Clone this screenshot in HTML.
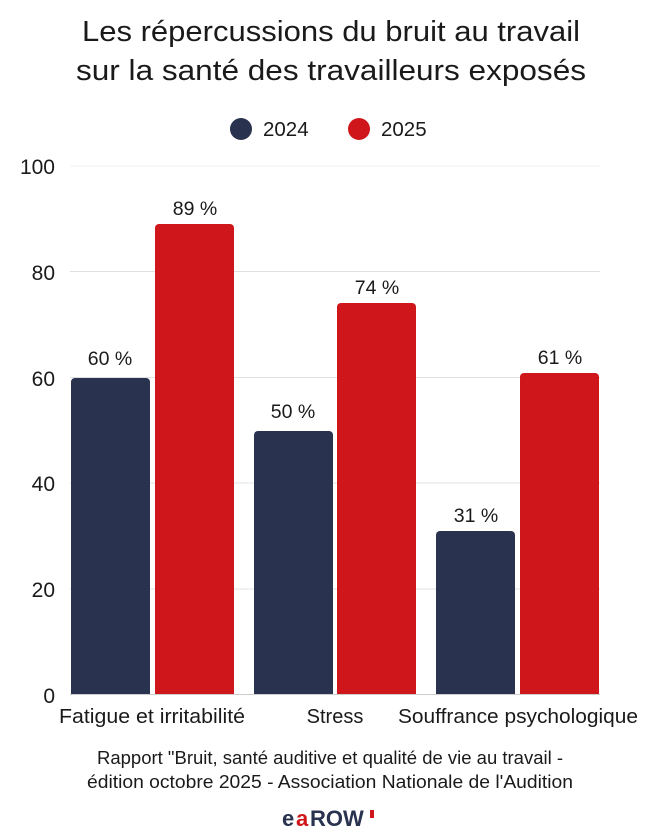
<!DOCTYPE html>
<html><head><meta charset="utf-8"><style>
body{margin:0;background:#fff;}
svg text{font-family:"Liberation Sans",sans-serif;fill:#1a1a1a;}
</style></head><body>
<svg width="659" height="832" viewBox="0 0 659 832" xmlns="http://www.w3.org/2000/svg">
<text x="331" y="41" font-size="29" text-anchor="middle" textLength="498" lengthAdjust="spacingAndGlyphs">Les répercussions du bruit au travail</text>
<text x="331" y="80" font-size="29" text-anchor="middle" textLength="510" lengthAdjust="spacingAndGlyphs">sur la santé des travailleurs exposés</text>
<circle cx="241" cy="129" r="11" fill="#29324f"/>
<text x="263" y="136" font-size="20.5">2024</text>
<circle cx="359" cy="129" r="11" fill="#cf171b"/>
<text x="381" y="136" font-size="20.5">2025</text>
<g stroke="#e0e0e0" stroke-width="1">
<line x1="70" y1="166" x2="600" y2="166" stroke="#f0f0f0"/>
<line x1="70" y1="271.5" x2="600" y2="271.5"/>
<line x1="70" y1="377.5" x2="600" y2="377.5"/>
<line x1="70" y1="483" x2="600" y2="483"/>
<line x1="70" y1="589" x2="600" y2="589"/>
</g>
<g font-size="21" text-anchor="end">
<text x="55" y="174">100</text>
<text x="55" y="280">80</text>
<text x="55" y="386">60</text>
<text x="55" y="491">40</text>
<text x="55" y="597">20</text>
<text x="55" y="703">0</text>
</g>
<g>
<path d="M71 694V382a4 4 0 0 1 4-4h71a4 4 0 0 1 4 4V694z" fill="#29324f"/>
<path d="M155 694V228a4 4 0 0 1 4-4h71a4 4 0 0 1 4 4V694z" fill="#cf171b"/>
<path d="M254 694V435a4 4 0 0 1 4-4h71a4 4 0 0 1 4 4V694z" fill="#29324f"/>
<path d="M337 694V307a4 4 0 0 1 4-4h71a4 4 0 0 1 4 4V694z" fill="#cf171b"/>
<path d="M436 694V535a4 4 0 0 1 4-4h71a4 4 0 0 1 4 4V694z" fill="#29324f"/>
<path d="M520 694V377a4 4 0 0 1 4-4h71a4 4 0 0 1 4 4V694z" fill="#cf171b"/>
</g>
<line x1="70" y1="694.5" x2="600" y2="694.5" stroke="#ccc"/>
<g font-size="19.5" text-anchor="middle">
<text x="110" y="365">60 %</text>
<text x="195" y="215">89 %</text>
<text x="293" y="418">50 %</text>
<text x="377" y="294">74 %</text>
<text x="476" y="522">31 %</text>
<text x="560" y="364">61 %</text>
</g>
<g font-size="20" text-anchor="middle">
<text x="152" y="723" textLength="186" lengthAdjust="spacingAndGlyphs">Fatigue et irritabilité</text>
<text x="335" y="723">Stress</text>
<text x="518" y="723" textLength="240" lengthAdjust="spacingAndGlyphs">Souffrance psychologique</text>
</g>
<g font-size="18" text-anchor="middle" fill="#333">
<text x="330" y="764" textLength="466" lengthAdjust="spacingAndGlyphs">Rapport "Bruit, santé auditive et qualité de vie au travail -</text>
<text x="330" y="788" textLength="486" lengthAdjust="spacingAndGlyphs">édition octobre 2025 - Association Nationale de l'Audition</text>
</g>
<g font-size="22" font-weight="bold" font-family="Liberation Sans,sans-serif">
<text x="282" y="826" style="fill:#29324f">e</text>
<text x="296" y="826" style="fill:#cf171b">a</text>
<text x="310" y="826" style="fill:#29324f">ROW</text>
<rect x="370" y="810" width="4" height="8" fill="#cf171b"/>
</g>
</svg>
</body></html>
